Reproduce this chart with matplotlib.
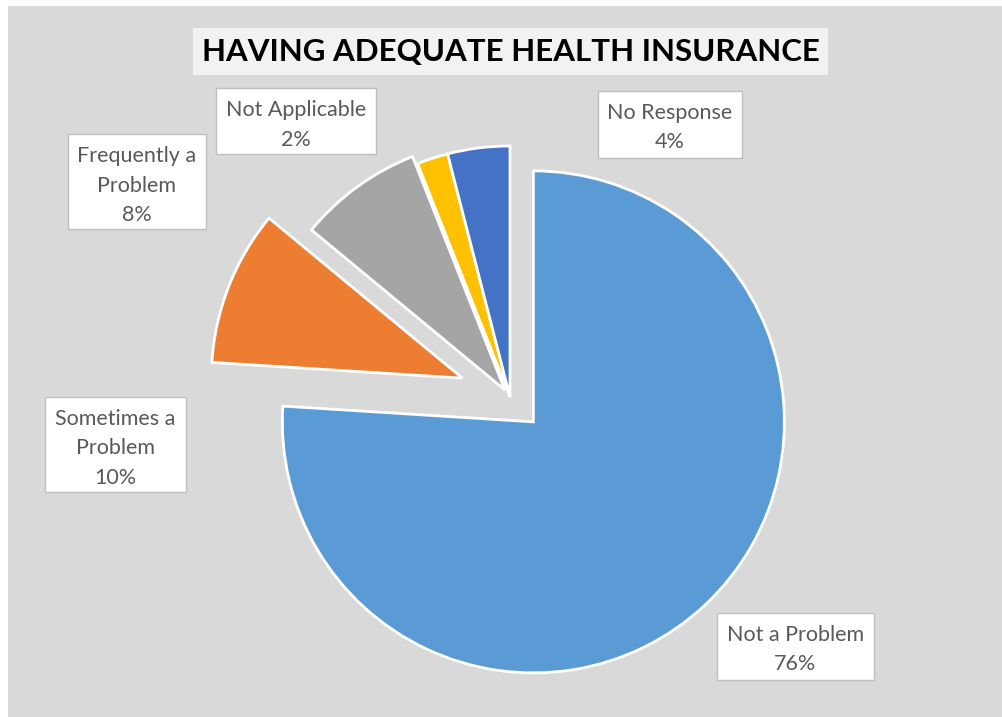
import matplotlib
matplotlib.use("Agg")
import matplotlib.pyplot as plt
from matplotlib.patches import Rectangle

W, H = 1002, 717

# survey answers, clockwise from 12 o'clock
categories = ["Not a Problem", "Sometimes a Problem", "Frequently a Problem",
              "Not Applicable", "No Response"]
label_text = ["Not a Problem", "Sometimes a\nProblem", "Frequently a\nProblem",
              "Not Applicable", "No Response"]
values = [76, 10, 8, 2, 4]
colors = ["#5B9BD5", "#ED7D31", "#A5A5A5", "#FFC000", "#4472C4"]
explode = [0.136, 0.204, 0.035, 0.0, 0.0]

title = "HAVING ADEQUATE HEALTH INSURANCE"

# label boxes in pixels from top-left: left, top, right, bottom
label_boxes = [
    (717, 613, 874, 680),
    (45, 397, 186, 492),
    (68, 134, 206, 229),
    (216, 88, 376, 154),
    (598, 91, 742, 158),
]

pie_cx, pie_cy, pie_r = 510, 397, 251

plt.rcParams["font.family"] = ["Lato", "DejaVu Sans"]

fig = plt.figure(figsize=(W / 100, H / 100), dpi=100, facecolor="white")

# background, title and labels, drawn in pixel coordinates
bg = fig.add_axes([0, 0, 1, 1], zorder=1)
bg.set_xlim(0, W)
bg.set_ylim(H, 0)
bg.axis("off")
bg.add_patch(Rectangle((8, 6), W - 8, H - 6, facecolor="#D9D9D9", edgecolor="none"))

bg.add_patch(Rectangle((193, 28), 828 - 193, 75 - 28, facecolor="#F2F2F2", edgecolor="none"))
bg.text(510.5, 52, title, ha="center", va="center", fontsize=22.5,
        fontweight="bold", color="black")

for (l, t, r, b), txt, v in zip(label_boxes, label_text, values):
    bg.add_patch(Rectangle((l, t), r - l, b - t, facecolor="white",
                           edgecolor="#BFBFBF", linewidth=1))
    lines = txt.split("\n") + [f"{v}%"]
    for i, line in enumerate(lines):
        bg.text((l + r) / 2, t + 28 + 29.5 * i, line, ha="center", va="baseline",
                fontsize=15.5, color="#595959")

# the pie itself, radius 1 scaled so it lands on the right pixels
ax = fig.add_axes([0, 0, 1, 1], zorder=2)
ax.patch.set_alpha(0)
ax.pie(values, colors=colors, explode=explode, startangle=90, counterclock=False,
       radius=1, wedgeprops=dict(edgecolor="white", linewidth=2))
ax.set_xlim(-pie_cx / pie_r, (W - pie_cx) / pie_r)
ax.set_ylim(-(H - pie_cy) / pie_r, pie_cy / pie_r)
ax.set_aspect("equal")
ax.axis("off")

fig.savefig("out.png", dpi=100, facecolor="white")
